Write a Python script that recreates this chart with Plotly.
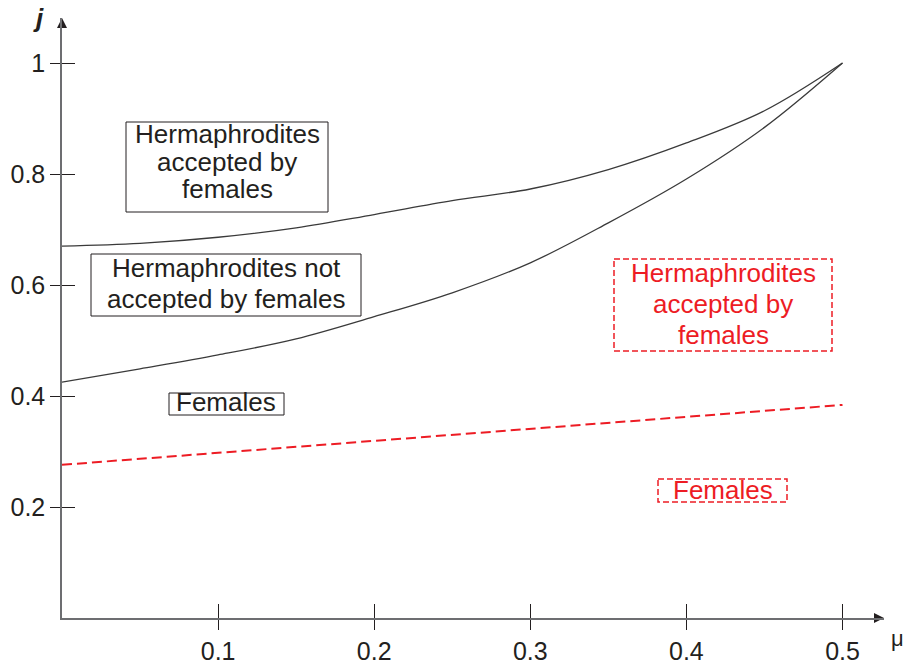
import plotly.graph_objects as go

# ---- data ----
mu_grid = [0, 0.05, 0.1, 0.15, 0.2, 0.25, 0.3, 0.35, 0.4, 0.45, 0.5]
j_upper = [0.670, 0.675, 0.686, 0.703, 0.727, 0.752, 0.773, 0.808, 0.856, 0.914, 1.0]
j_lower = [0.425, 0.449, 0.474, 0.503, 0.543, 0.586, 0.640, 0.712, 0.791, 0.884, 1.0]
mu_red = [0, 0.5]
j_red = [0.276, 0.384]

x_tickvals = [0.1, 0.2, 0.3, 0.4, 0.5]
x_ticktext = ["0.1", "0.2", "0.3", "0.4", "0.5"]
y_tickvals = [0.2, 0.4, 0.6, 0.8, 1.0]
y_ticktext = ["0.2", "0.4", "0.6", "0.8", "1"]

# ---- layout geometry (window pixels; page margin removed below) ----
W, H = 907, 665
X0_S, Y0_S = 62, 618          # pixel of the origin
XEND_S, YEND_S = 884, 18      # pixel of the arrow tips
L = X0_S
T = YEND_S
R = W - XEND_S
B = H - Y0_S
XS = 1561.0   # px per unit mu
YS = 555.0    # px per unit j
PW = XEND_S - X0_S
PH = Y0_S - YEND_S
X_MAX = PW / XS
Y_MAX = PH / YS


def dx(px):
    return (px - X0_S) / XS


def dy(py):
    return (Y0_S - py) / YS


def px_paper_x(px):
    return (px - X0_S) / PW


def px_paper_y(py):
    return (Y0_S - py) / PH


FONT = "Liberation Sans, Arial, Helvetica, sans-serif"
BLACK = "#231f20"
RED = "rgb(237,28,36)"
AXIS = "#6d6e71"

fig = go.Figure()

fig.add_trace(go.Scatter(x=mu_grid, y=j_upper, mode="lines",
                         line=dict(color="#3a3a3a", width=1.3, shape="spline"),
                         hoverinfo="skip", showlegend=False))
fig.add_trace(go.Scatter(x=mu_grid, y=j_lower, mode="lines",
                         line=dict(color="#3a3a3a", width=1.3, shape="spline"),
                         hoverinfo="skip", showlegend=False))
fig.add_trace(go.Scatter(x=mu_red, y=j_red, mode="lines",
                         line=dict(color=RED, width=2, dash="10px,5px"),
                         hoverinfo="skip", showlegend=False))

# axis arrowheads
fig.add_trace(go.Scatter(x=[0, X_MAX], y=[Y_MAX, 0], mode="markers",
                         marker=dict(symbol=["arrow-up", "arrow-right"], size=10,
                                     color="#231f20", line=dict(width=0)),
                         cliponaxis=False, hoverinfo="skip", showlegend=False))

# helper trace for inside ticks
fig.add_trace(go.Scatter(x=[], y=[], xaxis="x2", yaxis="y2", showlegend=False))


# ---- boxes ----
def box(x0, y0, x1, y1, color, dash=None, width=1):
    fig.add_shape(type="rect", x0=dx(x0), x1=dx(x1), y0=dy(y0), y1=dy(y1),
                  line=dict(color=color, width=width, dash=dash),
                  fillcolor="rgba(0,0,0,0)", layer="above")


def text(s, cx, baseline, color):
    fig.add_annotation(x=dx(cx), y=dy(baseline - 9), text=s, showarrow=False,
                       xanchor="center", yanchor="middle",
                       font=dict(family=FONT, size=26, color=color))


box(126, 122, 328, 212, BLACK)
text("Hermaphrodites", 227, 143.3, BLACK)
text("accepted by", 227, 171, BLACK)
text("females", 227, 198.3, BLACK)

box(91, 254, 361, 316, BLACK)
text("Hermaphrodites not", 226, 277, BLACK)
text("accepted by females", 226, 308, BLACK)

box(169, 393, 284, 415, BLACK)
text("Females", 226, 410.7, BLACK)

box(614, 259, 832, 351, RED, dash="6px,3px", width=1.5)
text("Hermaphrodites", 723, 281.7, RED)
text("accepted by", 723, 312.7, RED)
text("females", 723, 344, RED)

box(658, 479, 787, 502, RED, dash="6px,3px", width=1.5)
text("Females", 723, 499.3, RED)

# axis titles
fig.add_annotation(x=px_paper_x(38), y=px_paper_y(18), xref="paper", yref="paper",
                   text="<b><i>j</i></b>", showarrow=False,
                   xanchor="center", yanchor="middle",
                   font=dict(family=FONT, size=26, color=BLACK))
fig.add_annotation(x=px_paper_x(897), y=px_paper_y(638), xref="paper", yref="paper",
                   text="μ", showarrow=False,
                   xanchor="center", yanchor="middle",
                   font=dict(family=FONT, size=22, color=BLACK))

tickfont = dict(family=FONT, size=25, color=BLACK)

fig.update_layout(
    width=W, height=H,
    margin=dict(l=L, r=R, t=T, b=B, pad=0, autoexpand=False),
    paper_bgcolor="white", plot_bgcolor="white",
    showlegend=False,
    xaxis=dict(range=[0, X_MAX], showgrid=False, zeroline=False, automargin=False,
               showline=True, linecolor=AXIS, linewidth=1.5,
               tickmode="array", tickvals=x_tickvals, ticktext=x_ticktext,
               ticks="outside", ticklen=10, tickwidth=1, tickcolor=BLACK,
               tickfont=tickfont, fixedrange=True),
    yaxis=dict(range=[0, Y_MAX], showgrid=False, zeroline=False, automargin=False,
               showline=True, linecolor=AXIS, linewidth=1.5,
               tickmode="array", tickvals=y_tickvals, ticktext=y_ticktext,
               ticks="outside", ticklen=10, tickwidth=1, tickcolor=BLACK,
               tickfont=tickfont, fixedrange=True),
    xaxis2=dict(range=[0, X_MAX], overlaying="x", anchor="y", side="bottom",
                showgrid=False, zeroline=False, showline=False, automargin=False,
                tickmode="array", tickvals=x_tickvals, showticklabels=False,
                ticks="inside", ticklen=14, tickwidth=1, tickcolor=BLACK),
    yaxis2=dict(range=[0, Y_MAX], overlaying="y", anchor="x", side="left",
                showgrid=False, zeroline=False, showline=False, automargin=False,
                tickmode="array", tickvals=y_tickvals, showticklabels=False,
                ticks="inside", ticklen=13, tickwidth=1, tickcolor=BLACK),
)

fig.write_html(
    "out.html",
    config={"displayModeBar": False},
    post_script="document.body.style.margin='0';document.body.style.overflow='hidden';",
)
